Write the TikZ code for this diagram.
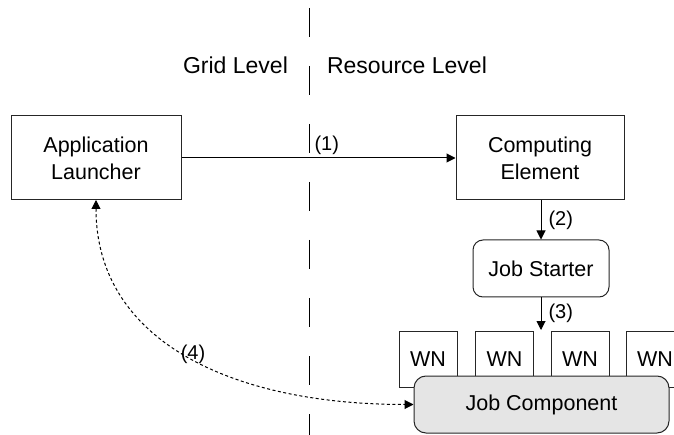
\documentclass[tikz,border=0pt]{standalone}
\usepackage{fontspec}
\setmainfont{Liberation Sans}
\usetikzlibrary{arrows.meta}
\begin{document}
\begin{tikzpicture}[x=1pt,y=-1pt,
  every node/.style={font=\fontsize{21.5}{27}\selectfont, inner sep=0pt},
  box/.style={draw=black!85, line width=1pt, fill=white, align=center},
  roundbox/.style={box, rounded corners=10pt},
  tip/.style={-{Triangle[length=9pt,width=9pt]}},
  link/.style={line width=1pt, tip},
  lbl/.style={font=\fontsize{20}{23}\selectfont},
  level/.style={font=\fontsize{23}{27}\selectfont}
]
\useasboundingbox (0,0) rectangle (674,435);
\clip (0,0) rectangle (674,435);

% boundary between the two levels
\draw[line width=1pt, dash pattern=on 29pt off 29pt, dash phase=-8pt] (309,0) -- (309,435);
\node[level] (grid) at (235.5,65) {Grid Level};
\node[level] (res) at (407,65) {Resource Level};

% components
\node[box, minimum width=170pt, minimum height=84pt] (al) at (96,158) {Application\\Launcher};
\node[box, minimum width=168pt, minimum height=84pt] (ce) at (540,158) {Computing\\Element};
\node[roundbox, minimum width=136pt, minimum height=57pt] (js) at (541,268.5) {Job Starter};

% worker nodes behind the job component
\foreach \i/\x in {1/428, 2/504.5, 3/580, 4/655}
  \node[box, minimum width=58pt, minimum height=56pt] (wn\i) at (\x,359) {WN};
\node[roundbox, fill=black!10, rounded corners=12pt, minimum width=255pt, minimum height=57pt] (jc) at (541.5,404.5) {Job Component};

% connectors
\draw[link] (al.east) -- node[lbl, pos=0.53, above=3pt] (l1) {(1)} (ce.west);
\draw[link] (js.north |- ce.south) -- node[lbl, right=7pt] (l2) {(2)} (js.north);
\coordinate (wnin) at (541,330);
\draw[link] (js.south) -- node[lbl, right=7pt] (l3) {(3)} (wnin);
\draw[line width=1pt, dash pattern=on 3pt off 2.5pt, {Triangle[length=9pt,width=9pt]}-{Triangle[length=9pt,width=9pt]}]
  (96,200) .. controls (96,340) and (230,404.5) .. (jc.west);
\node[lbl] (l4) at (193,354) {(4)};
\end{tikzpicture}
\end{document}
